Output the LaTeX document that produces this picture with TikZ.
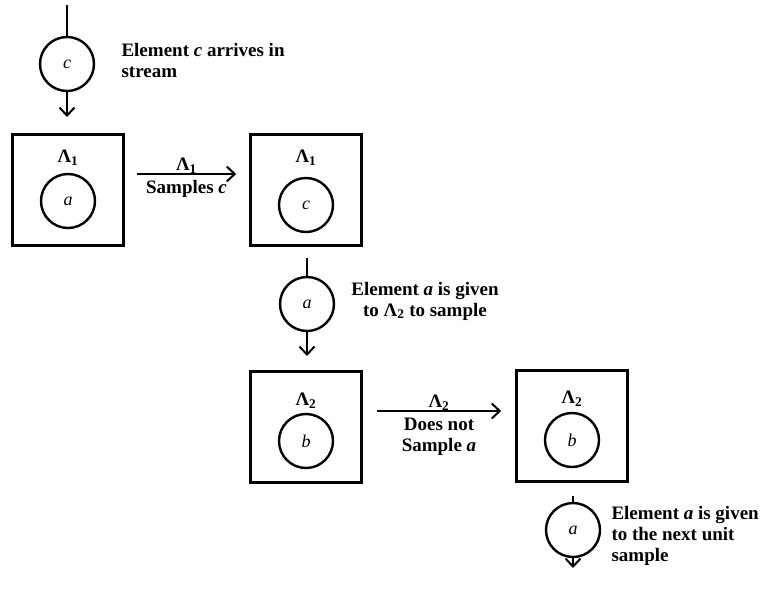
\documentclass[tikz,border=0pt]{standalone}
\usepackage{fontspec}
\setmainfont{Liberation Serif}
\usetikzlibrary{arrows.meta,positioning,calc}
\begin{document}
\begin{tikzpicture}[x=1pt,y=-1pt,
  unitbox/.style={draw, line width=2.6pt, minimum size=111pt, inner sep=0pt},
  elem/.style={draw, circle, line width=2.4pt, minimum size=54pt, inner sep=0pt, font=\fontsize{18}{20}\selectfont\itshape},
  note/.style={font=\fontsize{19}{21}\selectfont\bfseries},
  lam/.style={font=\fontsize{19}{21}\selectfont\bfseries, inner sep=1pt},
  arr/.style={-{Straight Barb[length=8pt,width=15pt,line width=2pt]}, line width=1.6pt}]
\useasboundingbox (0,0) rectangle (768,597);
% incoming element
\node[elem] (cin) at (67,64) {c};
\coordinate (cintop) at (67,5);
\coordinate (cinend) at (67,117);
\draw[line width=1.4pt] (cintop) -- (cin);
\draw[arr] (cin) -- (cinend);
\node[note, anchor=west, align=left] (cnote) at (118,61) {Element \textit{c} arrives in\\stream};
% first unit
\node[unitbox] (box1) at (68,190) {};
\node[lam] (lam1a) at (68,158) {Λ\textsubscript{1}};
\node[elem] (a1) at (68,201) {a};
\node[unitbox] (box2) at (306,190) {};
\node[lam] (lam1b) at (306,158) {Λ\textsubscript{1}};
\node[elem] (c1) at (306,205) {c};
\draw[arr] ([shift={(12,-16)}]box1.east) coordinate (s1) -- ([shift={(-13,-16)}]box2.west) coordinate (e1);
\node[lam] (lam1c) at ($(s1)!0.5!(e1)+(0,-8)$) {Λ\textsubscript{1}};
\node[note] (samp1) at ($(s1)!0.5!(e1)+(0,15)$) {Samples \textit{c}};
% element handed on
\node[elem] (a2) at (307,304) {a};
\coordinate (a2top) at (307,258);
\coordinate (a2end) at (307,356);
\draw[line width=1.4pt] (a2top) -- (a2);
\draw[arr] (a2) -- (a2end);
\node[note, align=center] (anote) at (425,301) {Element \textit{a} is given\\to Λ\textsubscript{2} to sample};
% second unit
\node[unitbox] (box3) at (306,427) {};
\node[lam] (lam2a) at (306,401) {Λ\textsubscript{2}};
\node[elem] (b1) at (306,441) {b};
\node[unitbox] (box4) at (572,426) {};
\node[lam] (lam2b) at (572,399) {Λ\textsubscript{2}};
\node[elem] (b2) at (572,440) {b};
\draw[arr] ([shift={(14,-16)}]box3.east) coordinate (s2) -- ([shift={(-14,-15)}]box4.west) coordinate (e2);
\node[lam] (lam2c) at ($(s2)!0.5!(e2)+(0,-8)$) {Λ\textsubscript{2}};
\node[note, align=center] (samp2) at ($(s2)!0.5!(e2)+(0,26)$) {Does not\\Sample \textit{a}};
% element leaves
\node[elem] (a3) at (573,530) {a};
\coordinate (a3top) at (573,496);
\coordinate (a3end) at (573,568);
\draw[line width=1.4pt] (a3top) -- (a3);
\draw[arr] (a3) -- (a3end);
\node[note, anchor=west, align=left] (nnote) at (608,536) {Element \textit{a} is given\\to the next unit\\sample};
\end{tikzpicture}
\end{document}
